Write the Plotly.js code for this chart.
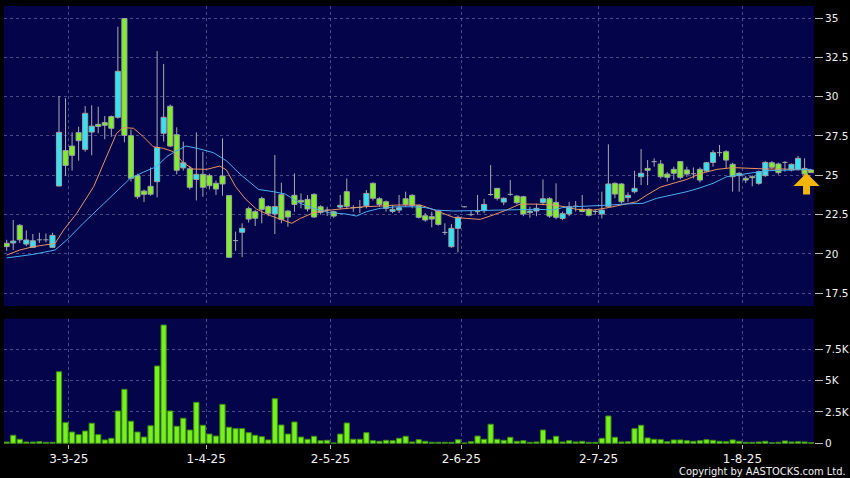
<!DOCTYPE html>
<html><head><meta charset="utf-8">
<script src="https://cdn.plot.ly/plotly-3.0.1.min.js"></script>
<style>html,body{margin:0;padding:0;background:#000;}#chart{width:850px;height:478px;}</style>
</head><body><div id="chart"></div>
<script>
// ---- data ----
const startDate = '2025-02-17';
const holidays = ['2025-04-04','2025-04-18','2025-04-21','2025-05-01','2025-05-05','2025-07-01'];

const openP  = [20.68,20.70,21.82,20.63,20.42,20.90,20.90,20.42,24.32,26.57,
                26.86,27.71,26.65,27.75,28.24,28.35,28.73,28.69,34.96,27.52,
                24.98,24.00,24.30,24.60,27.67,29.39,27.58,25.47,25.42,24.74,
                25.06,24.98,24.49,24.96,23.71,20.85,21.38,22.88,22.69,23.52,
                23.01,22.54,23.77,22.73,23.73,23.41,23.47,23.79,23.00,22.80,
                22.69,22.98,23.96,22.94,22.95,23.07,24.49,23.51,23.32,22.71,
                22.79,23.51,23.73,23.07,22.43,22.37,22.73,21.37,20.46,21.63,
                23.00,22.50,22.69,22.75,23.78,24.17,23.30,23.79,23.68,23.64,
                22.63,22.73,23.26,23.51,23.28,22.26,22.54,23.04,22.84,22.84,
                22.70,22.54,23.01,24.49,24.45,23.58,23.96,24.91,25.44,25.87,
                25.72,25.08,25.38,25.87,25.34,25.10,25.38,25.27,25.82,26.44,
                26.50,25.70,24.98,24.81,24.91,24.49,24.98,25.80,25.72,25.82,
                25.34,25.38,25.44,25.34];
const highP  = [20.90,22.16,21.90,21.50,21.27,21.35,21.30,21.35,30.04,29.90,
                27.73,28.09,29.40,29.45,29.36,28.77,28.80,34.45,35.00,27.90,
                25.10,24.10,25.50,32.90,32.08,29.50,28.05,27.14,25.60,27.73,
                26.50,25.10,24.66,27.35,23.75,21.42,21.95,23.00,22.80,23.64,
                23.10,26.29,24.53,22.80,25.12,23.85,23.75,23.86,23.10,23.00,
                22.75,23.75,24.80,23.10,23.43,24.06,24.55,23.60,23.40,23.10,
                23.75,23.96,23.80,23.10,22.60,22.69,22.80,21.95,21.90,22.45,
                23.02,22.75,23.75,23.50,25.65,24.20,23.60,24.70,23.75,23.70,
                23.00,23.20,24.74,23.60,24.49,22.70,23.30,23.37,23.75,22.90,
                22.80,23.96,26.97,24.55,24.50,23.92,25.29,26.67,25.97,26.08,
                25.97,25.20,25.55,25.90,25.55,25.50,25.50,25.85,26.60,26.93,
                26.60,25.80,25.20,24.95,25.00,25.30,25.90,25.90,25.80,25.90,
                25.75,26.23,26.08,25.38];
const lowP   = [20.20,20.25,20.70,20.50,20.40,20.70,20.75,20.40,24.30,24.98,
                25.30,25.93,26.50,26.27,27.67,27.29,27.45,28.60,27.10,24.60,
                23.50,23.30,23.70,23.60,27.14,26.80,25.06,25.30,24.10,23.40,
                23.64,24.10,23.75,23.70,19.75,20.20,19.80,22.00,21.78,21.95,
                22.40,21.27,21.95,21.73,22.69,22.90,22.70,22.30,22.50,22.41,
                22.30,22.85,22.85,22.68,22.60,22.90,23.40,23.00,22.70,22.60,
                22.60,23.00,22.90,22.25,22.05,21.69,21.80,21.20,20.40,20.10,
                22.96,22.40,22.50,22.60,23.70,23.40,23.10,23.70,23.15,22.40,
                22.30,22.40,23.10,22.30,22.20,22.15,22.40,22.70,22.65,22.38,
                22.50,22.26,22.95,23.54,23.20,23.32,23.85,24.38,24.38,25.55,
                24.80,24.60,24.70,24.75,24.90,24.80,24.55,25.20,25.55,26.20,
                25.44,23.96,23.96,24.50,24.30,24.40,24.90,25.40,25.05,25.23,
                25.25,25.30,25.00,25.15];
const closeP = [20.47,20.82,20.90,20.89,20.84,20.90,20.90,21.18,27.73,25.63,
                26.27,27.20,28.94,28.13,28.11,28.18,27.99,31.61,27.54,24.81,
                23.64,23.79,23.80,26.76,28.69,26.86,25.32,25.80,24.24,25.06,
                24.24,24.34,24.13,24.45,19.79,20.85,21.63,22.22,22.27,22.84,
                22.58,23.01,22.20,22.35,23.15,23.30,22.86,22.35,22.64,22.80,
                22.41,23.09,23.03,22.94,22.95,23.85,23.54,23.15,22.90,22.84,
                22.94,23.15,23.09,22.33,22.16,22.22,21.88,21.37,21.63,22.33,
                23.00,22.50,22.69,23.15,23.78,23.54,23.54,23.79,23.26,22.54,
                22.73,22.90,23.51,22.41,22.33,22.56,23.00,23.04,22.70,22.46,
                22.70,22.79,24.45,23.81,23.32,23.73,24.17,25.13,25.32,25.87,
                24.91,24.87,25.13,24.87,25.08,25.10,24.70,25.80,26.44,26.44,
                25.97,24.91,25.13,24.70,24.85,25.23,25.82,25.51,25.17,25.82,
                25.70,26.08,25.08,25.17];
const volume = [100,640,320,100,100,130,80,80,5710,1650,
                900,690,980,1600,690,270,400,2580,4310,1760,
                900,500,1400,6170,9440,2580,1360,2000,1060,3270,
                1440,740,580,3110,1280,1170,1170,850,640,530,
                270,3560,1460,740,1700,500,320,560,210,240,
                30,740,1620,320,320,850,210,160,240,210,
                400,560,110,290,160,80,80,80,80,290,
                30,130,580,320,1520,320,240,480,160,210,
                80,110,1060,270,560,110,210,110,160,80,
                80,400,2180,480,110,130,1170,1440,430,320,
                290,130,270,270,210,160,210,290,240,160,
                130,270,160,80,80,110,160,50,80,190,
                110,130,110,50];

// moving averages (position in trading days, value)
const maShortPos = [0,2,4,6,7.4,8.7,10.7,13.3,15.3,16.8,17.8,19.4,20.9,22.4,24,25.5,27,28.5,30.6,32.6,33.6,35,36.5,38.2,40.3,42.3,43.6,44.9,46.9,49.4,51.9,54.5,57.1,59.6,62.2,63.2,64.7,66.8,68.3,70.3,72.4,74.4,76.4,78.5,81,83.6,85.4,87.1,89.7,92.2,94.8,96.3,97.9,99.9,101.9,104,106,108.6,111.1,113.7,116.2,118.7,121.3,123];
const maShortVal = [19.93,20.25,20.46,20.57,20.67,21.52,22.58,24.28,26.18,27.67,28.03,27.99,27.45,26.82,26.71,26.5,25.8,25.4,25.38,25.59,25.34,24.28,23.5,22.85,22.44,22.12,21.95,22.26,22.62,22.79,22.9,23.0,23.05,23.11,23.11,23.12,22.9,22.58,22.33,22.26,22.2,22.48,22.79,23.17,23.17,23.11,23.0,22.84,22.79,22.96,23.18,23.32,23.75,24.24,24.49,24.74,25.1,25.38,25.49,25.44,25.4,25.4,25.34,25.34];
const maLongPos = [0,4,7.4,9.2,11.7,14.3,16.8,18.9,20.9,22.9,24.5,25.5,27.4,29.3,31.6,33.6,35.7,38.5,40.8,42.6,43.8,44.85,46.9,49.4,51.9,53.5,55,57.1,59.6,62.2,64,65.7,68.3,70.8,73.4,75.9,78.5,81,83.6,85,87.1,89.7,92.2,94.8,97.3,99.4,101.9,104,106,108,110.1,112.1,114.2,116.2,118.7,121.3,123];
const maLongVal = [19.75,19.97,20.25,20.89,21.95,23.0,23.96,24.81,25.2,25.55,26.19,26.45,26.86,26.7,26.44,25.92,25.07,24.1,23.96,23.81,23.5,23.22,22.9,22.62,22.54,22.41,22.69,22.9,23.0,23.0,22.95,22.79,22.73,22.75,22.75,22.79,22.79,22.84,22.8,22.95,23.01,23.05,23.11,23.18,23.22,23.54,23.75,23.96,24.2,24.49,24.91,25.06,25.17,25.29,25.34,25.38,25.38];

const tickDates  = ['2025-03-03','2025-04-01','2025-05-02','2025-06-02','2025-07-02','2025-08-01'];
const tickLabels = ['3-3-25','1-4-25','2-5-25','2-6-25','2-7-25','1-8-25'];
const priceTicks = [17.5,20,22.5,25,27.5,30,32.5,35];
const volTicks = [0,2500,5000,7500];
const volTickLabels = ['0','2.5K','5K','7.5K'];

// ---- build ----
function tradingDays(start, n) {
  const out = []; const d = new Date(start + 'T00:00:00Z');
  while (out.length < n) {
    const dow = d.getUTCDay(); const s = d.toISOString().slice(0, 10);
    if (dow !== 0 && dow !== 6 && !holidays.includes(s)) out.push(s);
    d.setUTCDate(d.getUTCDate() + 1);
  }
  return out;
}
const dates = tradingDays(startDate, openP.length);
const idx = dates.map((_, i) => i);
const tickPos = tickDates.map(t => dates.indexOf(t) - 0.5);
const last = idx.length - 1;
const BODY = 0.78;

// wicks (upper + lower segments) and doji bars
const wx = [], wy = [];
const upX = [], upBase = [], upH = [], dnX = [], dnBase = [], dnH = [];
idx.forEach(i => {
  const top = Math.max(openP[i], closeP[i]), bot = Math.min(openP[i], closeP[i]);
  if (highP[i] > top) { wx.push(i, i, null); wy.push(top, highP[i], null); }
  if (lowP[i] < bot) { wx.push(i, i, null); wy.push(bot, lowP[i], null); }
  if (closeP[i] > openP[i]) { upX.push(i); upBase.push(openP[i]); upH.push(closeP[i] - openP[i]); }
  else if (closeP[i] < openP[i]) { dnX.push(i); dnBase.push(closeP[i]); dnH.push(openP[i] - closeP[i]); }
  else { wx.push(i - BODY / 2, i + BODY / 2, null); wy.push(openP[i], openP[i], null); }
});

const FONT = 'DejaVu Sans, sans-serif';
const GRID = 'rgba(120,124,175,0.6)';
const EDGE = '#9da3a3';

const traces = [
  { type: 'bar', x: upX, base: upBase, y: upH, width: BODY, xaxis: 'x', yaxis: 'y', hoverinfo: 'skip',
    marker: { color: '#30e4f4', line: { color: EDGE, width: 1 } } },
  { type: 'bar', x: dnX, base: dnBase, y: dnH, width: BODY, xaxis: 'x', yaxis: 'y', hoverinfo: 'skip',
    marker: { color: '#80ee28', line: { color: EDGE, width: 1 } } },
  { type: 'scatter', mode: 'lines', x: wx, y: wy, xaxis: 'x', yaxis: 'y', hoverinfo: 'skip',
    connectgaps: false, line: { color: '#a8acac', width: 1 } },
  { type: 'scatter', mode: 'lines', x: maShortPos, y: maShortVal, xaxis: 'x', yaxis: 'y',
    line: { color: '#ea9460', width: 1 }, hoverinfo: 'skip' },
  { type: 'scatter', mode: 'lines', x: maLongPos, y: maLongVal, xaxis: 'x', yaxis: 'y',
    line: { color: '#4aaef0', width: 1 }, hoverinfo: 'skip' },
  { type: 'bar', x: idx, y: volume, width: 0.8, xaxis: 'x2', yaxis: 'y2', hoverinfo: 'skip',
    marker: { color: '#76f01e', line: { color: '#3f8a10', width: 1 } } }
];

const axX = {
  range: [-0.41, last + 0.44], tickvals: tickPos, showgrid: true, gridcolor: GRID,
  griddash: '3px,3px', gridwidth: 1, zeroline: false, showline: false, fixedrange: true
};
const axY = {
  side: 'right', ticks: 'outside', ticklen: 8, tickcolor: '#bbbbbb',
  tickfont: { family: FONT, size: 10.5, color: '#f2f2f2' },
  showgrid: true, gridcolor: GRID, griddash: '3px,3px', zeroline: false, showline: false, fixedrange: true
};
const layout = {
  width: 850, height: 478,
  paper_bgcolor: '#000000', plot_bgcolor: '#03044a',
  margin: { l: 4, r: 36, t: 6, b: 34 },
  showlegend: false, barmode: 'overlay',
  xaxis: Object.assign({}, axX, { anchor: 'y', domain: [0, 1], showticklabels: false, ticks: '' }),
  xaxis2: Object.assign({}, axX, { anchor: 'y2', domain: [0, 1], matches: 'x', ticktext: tickLabels,
    ticks: 'outside', ticklen: 4, tickcolor: '#bbbbbb',
    tickfont: { family: FONT, size: 12, color: '#f2f2f2' } }),
  yaxis: Object.assign({}, axY, { domain: [0.315, 1], anchor: 'x', range: [16.691, 35.763],
    tickvals: priceTicks, ticktext: priceTicks.map(String) }),
  yaxis2: Object.assign({}, axY, { domain: [0, 0.286], anchor: 'x2', range: [-56, 9943],
    tickvals: volTicks, ticktext: volTickLabels }),
  annotations: [
    { xref: 'x', yref: 'y', x: last - 0.7, y: 25.15, ax: 0, ay: 23, text: '',
      showarrow: true, arrowhead: 1, arrowwidth: 7, arrowsize: 0.62, arrowcolor: '#f5b60a' },
    { xref: 'paper', yref: 'paper', x: 1, y: 0, xanchor: 'right', yanchor: 'middle',
      xshift: 34, yshift: -27, showarrow: false, text: 'Copyright by AASTOCKS.com Ltd.',
      font: { family: 'DejaVu Sans Condensed, DejaVu Sans, sans-serif', size: 11, color: '#f2f2f2' } }
  ]
};

Plotly.newPlot('chart', traces, layout, { staticPlot: true, displayModeBar: false });
</script>
</body></html>
